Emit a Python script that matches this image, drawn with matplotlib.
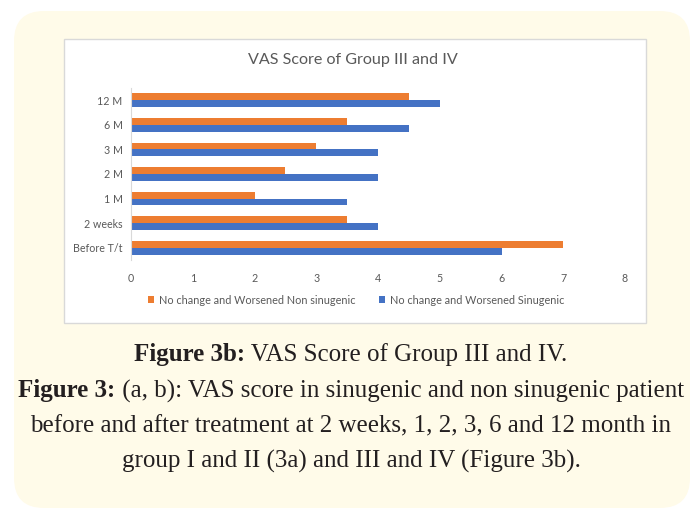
import matplotlib
matplotlib.use("Agg")
import matplotlib.pyplot as plt
import numpy as np
from matplotlib.patches import FancyBboxPatch, Rectangle

categories = ["Before T/t", "2 weeks", "1 M", "2 M", "3 M", "6 M", "12 M"]
non_sinugenic = [7, 3.5, 2, 2.5, 3, 3.5, 4.5]
sinugenic = [6, 4, 3.5, 4, 4, 4.5, 5]
series_names = ["No change and Worsened Non sinugenic", "No change and Worsened Sinugenic"]
xticks = [0, 1, 2, 3, 4, 5, 6, 7, 8]
title = "VAS Score of Group III and IV"

W, H = 695, 513
fig = plt.figure(figsize=(W / 100, H / 100), dpi=100)
fig.patch.set_facecolor("white")

# background axes in pixel coordinates
bg = fig.add_axes([0, 0, 1, 1], zorder=0)
bg.set_xlim(0, W)
bg.set_ylim(H, 0)
bg.axis("off")
bg.add_patch(FancyBboxPatch((14, 11), 676, 497, boxstyle="round,pad=0,rounding_size=30",
                            facecolor="#fffbe9", edgecolor="none"))
bg.add_patch(Rectangle((64, 39), 582, 284, facecolor="white", edgecolor="#d9d9d9", linewidth=1))

sans = ["Lato", "DejaVu Sans"]
gray = "#595959"

ax = fig.add_axes([131 / W, 1 - 260 / H, 494 / W, 172 / H], zorder=2)
ax.patch.set_alpha(0)
y = np.arange(len(categories))
h = 0.28
ax.barh(y + h / 2, non_sinugenic, height=h, color="#ED7D31", label=series_names[0])
ax.barh(y - h / 2, sinugenic, height=h, color="#4472C4", label=series_names[1])
ax.set_xlim(0, 8)
ax.set_ylim(-0.5, len(categories) - 0.5)
ax.set_yticks(y)
ax.set_yticklabels(categories, fontfamily=sans, fontsize=7.7, color=gray)
ax.set_xticks(xticks)
ax.set_xticklabels([str(t) for t in xticks], fontfamily=sans, fontsize=7.7, color=gray)
ax.tick_params(length=0, pad=6)
ax.tick_params(axis="x", pad=9)
for s in ["top", "right", "bottom"]:
    ax.spines[s].set_visible(False)
ax.spines["left"].set_color("#d9d9d9")
ax.spines["left"].set_linewidth(0.8)

fig.text(353 / W, 1 - 60 / H, title, ha="center", va="center", fontfamily=sans,
         fontsize=11.6, color=gray)

leg = fig.legend(loc="center", bbox_to_anchor=(356 / W, 1 - 300 / H), ncol=2, frameon=False,
                 prop={"family": sans, "size": 7.8}, handlelength=0.6, handleheight=0.6,
                 handletextpad=0.4, columnspacing=2.2)
for t in leg.get_texts():
    t.set_color(gray)

# caption with mixed bold / regular text
serif = ["Liberation Serif", "DejaVu Serif"]
cap_size = 18
cap_color = "#231f20"
lines = [
    ("Figure 3b:", " VAS Score of Group III and IV.", 355),
    ("Figure 3:", " (a, b): VAS score in sinugenic and non sinugenic patient", 391),
    ("", "before and after treatment at 2 weeks, 1, 2, 3, 6 and 12 month in", 426),
    ("", "group I and II (3a) and III and IV (Figure 3b).", 461),
]
renderer = fig.canvas.get_renderer()
cx = 351
for bold, reg, yy in lines:
    tb = bg.text(0, yy, bold, fontfamily=serif, fontsize=cap_size, fontweight="bold",
                 color=cap_color, va="center", ha="left") if bold else None
    tr = bg.text(0, yy, reg, fontfamily=serif, fontsize=cap_size, color=cap_color,
                 va="center", ha="left")
    wb = tb.get_window_extent(renderer).width if tb else 0
    wr = tr.get_window_extent(renderer).width
    x0 = cx - (wb + wr) / 2
    if tb:
        tb.set_x(x0)
    tr.set_x(x0 + wb)

fig.savefig("out.png", dpi=100, facecolor="white")
